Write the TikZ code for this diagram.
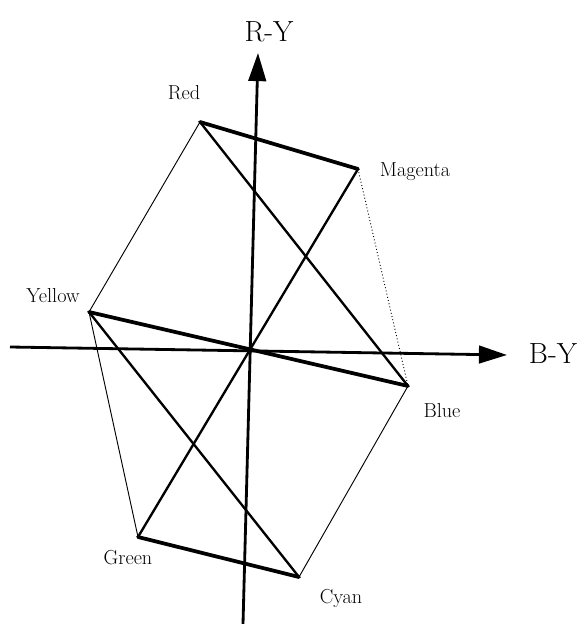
\documentclass[tikz,border=0pt]{standalone}
\usepackage{tikz}
\usetikzlibrary{arrows.meta}

\begin{document}
\begin{tikzpicture}[x=0.03cm, y=-0.03cm,
    axis/.style={line width=2.4pt, -{Triangle[length=24pt, width=15pt]}},
    heavy/.style={line width=3.2pt, line cap=round},
    medium/.style={line width=2pt, line cap=round},
    light/.style={line width=0.8pt},
    lbl/.style={font=\LARGE},
    axlbl/.style={font=\Huge}]
    \useasboundingbox (0, 0) rectangle (582, 624);

    % Achsen
    \coordinate (xl) at (10, 347);
    \coordinate (xr) at (507, 355);
    \coordinate (yb) at (243, 624);
    \coordinate (yt) at (258, 53);
    \draw[axis] (xl) -- (xr);
    \draw[axis] (yb) -- (yt);
    \node[axlbl] (BY) at (553, 354) {B-Y};
    \node[axlbl] (RY) at (269, 32) {R-Y};

    % Farbpunkte
    \coordinate (red) at (200, 122);
    \coordinate (mag) at (358, 169);
    \coordinate (blu) at (408, 386);
    \coordinate (cya) at (299, 577);
    \coordinate (gre) at (138, 537);
    \coordinate (yel) at (89, 312);

    % Beschriftung
    \node[lbl] (redL) at (184, 93) {Red};
    \node[lbl] (magL) at (415, 172) {Magenta};
    \node[lbl] (bluL) at (442, 411) {Blue};
    \node[lbl] (cyaL) at (341, 598) {Cyan};
    \node[lbl] (greL) at (128, 558) {Green};
    \node[lbl] (yelL) at (53, 296) {Yellow};

    % Dreiecke (Vektoren)
    \draw[heavy] (red) -- (mag);
    \draw[heavy] (yel) -- (blu);
    \draw[heavy] (gre) -- (cya);
    \draw[medium] (red) -- (blu);
    \draw[medium] (mag) -- (gre);
    \draw[medium] (yel) -- (cya);

    % Sechseck
    \draw[light] (red) -- (yel);
    \draw[light] (yel) -- (gre);
    \draw[light] (cya) -- (blu);
    \draw[light, dotted] (mag) -- (blu);
\end{tikzpicture}
\end{document}
